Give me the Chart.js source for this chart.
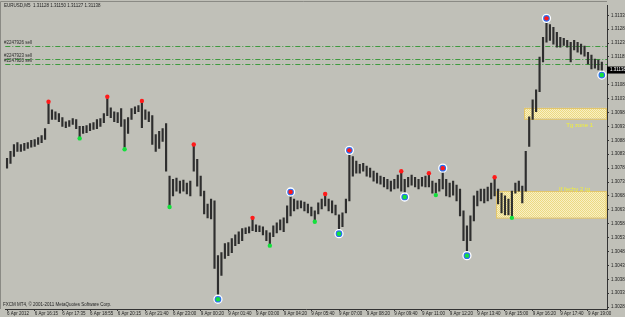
<!DOCTYPE html>
<html>
<head>
<meta charset="utf-8">
<script src="https://cdn.jsdelivr.net/npm/chart.js@4/dist/chart.umd.min.js"></script>
<style>
  html, body { margin: 0; padding: 0; background: #c0c0b8; }
</style>
</head>
<body>
<canvas id="chart" width="625" height="317"></canvas>
<script>
// EURUSD M5 - 6/9 Apr 2012
const symbol = 'EURUSD,M5';
const lastOhlc = [1.31128, 1.31150, 1.31127, 1.31138];
const copyright = 'FXCM MT4, \u00a9 2001-2011 MetaQuotes Software Corp.';

const timeTicks = ['6 Apr 2012', '6 Apr 16:15', '6 Apr 17:35', '6 Apr 18:55', '6 Apr 20:15', '6 Apr 21:40',
  '6 Apr 23:00', '9 Apr 00:20', '9 Apr 01:40', '9 Apr 03:00', '9 Apr 04:20', '9 Apr 05:40', '9 Apr 07:00',
  '9 Apr 08:20', '9 Apr 09:40', '9 Apr 11:00', '9 Apr 12:20', '9 Apr 13:40', '9 Apr 15:00', '9 Apr 16:20',
  '9 Apr 17:40', '9 Apr 19:00'];
const barsPerTick = 8;
const barCount = 174;

const priceTicks = [1.30285, 1.30335, 1.30385, 1.30435, 1.30485, 1.30535, 1.30585, 1.30635, 1.30685, 1.30735,
  1.30785, 1.30835, 1.30885, 1.30935, 1.30985, 1.31035, 1.31085, 1.31135, 1.31185, 1.31235, 1.31285, 1.31335];
const priceMin = 1.30278;
const priceMax = 1.31371;

const highs = [
  1.30820, 1.30845, 1.30870, 1.30877, 1.30870, 1.30874, 1.30877, 1.30885, 1.30888, 1.30895,
  1.30902, 1.30927, 1.31017, 1.30995, 1.30988, 1.30981, 1.30967, 1.30952, 1.30956, 1.30963,
  1.30960, 1.30935, 1.30935, 1.30938, 1.30945, 1.30949, 1.30960, 1.30963, 1.30981, 1.31035,
  1.31002, 1.30988, 1.30985, 1.30999, 1.30960, 1.30967, 1.30999, 1.31006, 1.31010, 1.31020,
  1.30995, 1.30988, 1.30974, 1.30906, 1.30917, 1.30927, 1.30945, 1.30756, 1.30745, 1.30749,
  1.30738, 1.30742, 1.30731, 1.30738, 1.30863, 1.30817, 1.30756, 1.30702, 1.30656, 1.30674,
  1.30667, 1.30470, 1.30481, 1.30513, 1.30517, 1.30531, 1.30545, 1.30556, 1.30567, 1.30570,
  1.30574, 1.30602, 1.30581, 1.30577, 1.30574, 1.30560, 1.30552, 1.30577, 1.30588, 1.30599,
  1.30606, 1.30649, 1.30692, 1.30674, 1.30667, 1.30667, 1.30663, 1.30656, 1.30645, 1.30631,
  1.30660, 1.30674, 1.30685, 1.30674, 1.30667, 1.30652, 1.30617, 1.30624, 1.30674, 1.30842,
  1.30827, 1.30810, 1.30799, 1.30802, 1.30792, 1.30785, 1.30774, 1.30767, 1.30756, 1.30752,
  1.30745, 1.30738, 1.30745, 1.30760, 1.30767, 1.30745, 1.30752, 1.30760, 1.30752, 1.30745,
  1.30752, 1.30756, 1.30760, 1.30738, 1.30731, 1.30745, 1.30777, 1.30745, 1.30731, 1.30738,
  1.30724, 1.30710, 1.30631, 1.30577, 1.30613, 1.30685, 1.30702, 1.30710, 1.30710, 1.30717,
  1.30731, 1.30745, 1.30710, 1.30695, 1.30685, 1.30674, 1.30702, 1.30731, 1.30738, 1.30720,
  1.30845, 1.30970, 1.31031, 1.31067, 1.31185, 1.31256, 1.31317, 1.31302, 1.31292, 1.31274,
  1.31256, 1.31252, 1.31245, 1.31238, 1.31245, 1.31238, 1.31231, 1.31224, 1.31202, 1.31192,
  1.31177, 1.31174, 1.31167
];
const lows = [
  1.30785, 1.30802, 1.30827, 1.30845, 1.30845, 1.30849, 1.30856, 1.30860, 1.30863, 1.30870,
  1.30877, 1.30888, 1.30945, 1.30960, 1.30960, 1.30952, 1.30935, 1.30931, 1.30935, 1.30942,
  1.30927, 1.30895, 1.30910, 1.30913, 1.30920, 1.30924, 1.30927, 1.30935, 1.30949, 1.30974,
  1.30967, 1.30952, 1.30949, 1.30935, 1.30860, 1.30910, 1.30960, 1.30981, 1.30988, 1.30931,
  1.30960, 1.30952, 1.30870, 1.30845, 1.30856, 1.30881, 1.30774, 1.30652, 1.30685, 1.30702,
  1.30695, 1.30702, 1.30692, 1.30685, 1.30774, 1.30720, 1.30685, 1.30620, 1.30606, 1.30602,
  1.30424, 1.30320, 1.30399, 1.30460, 1.30470, 1.30481, 1.30506, 1.30513, 1.30524, 1.30549,
  1.30552, 1.30560, 1.30556, 1.30556, 1.30545, 1.30524, 1.30513, 1.30538, 1.30552, 1.30563,
  1.30556, 1.30588, 1.30613, 1.30631, 1.30638, 1.30642, 1.30631, 1.30624, 1.30613, 1.30595,
  1.30620, 1.30638, 1.30649, 1.30631, 1.30624, 1.30617, 1.30556, 1.30574, 1.30624, 1.30667,
  1.30756, 1.30767, 1.30767, 1.30774, 1.30756, 1.30752, 1.30738, 1.30731, 1.30727, 1.30717,
  1.30710, 1.30702, 1.30710, 1.30713, 1.30702, 1.30688, 1.30717, 1.30724, 1.30717, 1.30710,
  1.30720, 1.30717, 1.30717, 1.30695, 1.30695, 1.30702, 1.30710, 1.30685, 1.30681, 1.30688,
  1.30667, 1.30613, 1.30524, 1.30477, 1.30524, 1.30595, 1.30649, 1.30667, 1.30660, 1.30667,
  1.30674, 1.30685, 1.30656, 1.30624, 1.30617, 1.30617, 1.30613, 1.30695, 1.30702, 1.30660,
  1.30702, 1.30863, 1.30960, 1.30988, 1.31060, 1.31167, 1.31238, 1.31245, 1.31231, 1.31220,
  1.31220, 1.31227, 1.31220, 1.31167, 1.31210, 1.31202, 1.31195, 1.31188, 1.31160, 1.31142,
  1.31145, 1.31138, 1.31131
];

// fractal-style swing markers
const peakBars = [12, 29, 39, 54, 71, 82, 92, 99, 114, 122, 126, 141, 156];
const peakPrices = [1.31024, 1.31042, 1.31027, 1.30870, 1.30606, 1.30699, 1.30692, 1.30849, 1.30774, 1.30767, 1.30785, 1.30752, 1.31324];
const troughBars = [21, 34, 47, 61, 76, 89, 96, 115, 124, 133, 146, 172];
const troughPrices = [1.30892, 1.30853, 1.30645, 1.30313, 1.30506, 1.30592, 1.30549, 1.30681, 1.30688, 1.30470, 1.30606, 1.31120];
const ringedBars = [61, 82, 96, 99, 115, 126, 133, 156, 172];

// open orders
const orderPrices = [1.31224, 1.31177, 1.31160];
const orderNames = ['#2247926 sell', '#2247923 sell', '#2247920 sell'];

// target zones
const zoneNames = ['Tg zone 1', 'If fechy 2 tg'];
const zoneFromBar = [150, 142];
const zoneHigh = [1.31002, 1.30702];
const zoneLow = [1.30963, 1.30606];

const labels = Array.from({ length: barCount }, (_, i) => i % barsPerTick === 0 ? timeTicks[i / barsPerTick] : '');
const bars = highs.map((h, i) => [lows[i], h]);

function sparse(idx, vals) {
  const out = new Array(barCount).fill(null);
  idx.forEach((b, k) => { out[b] = vals[k]; });
  return out;
}
const ringPrices = ringedBars.map(b => {
  const p = peakBars.indexOf(b);
  return p >= 0 ? peakPrices[p] : troughPrices[troughBars.indexOf(b)];
});

let pattern = null;
function zoneFill(ctx) {
  if (pattern) return pattern;
  const c = document.createElement('canvas');
  c.width = 2; c.height = 2;
  const g = c.getContext('2d');
  g.fillStyle = '#f8f0c4'; g.fillRect(0, 0, 2, 2);
  g.fillStyle = '#ecd982'; g.fillRect(0, 0, 1, 1); g.fillRect(1, 1, 1, 1);
  pattern = ctx.createPattern(c, 'repeat');
  return pattern;
}

const FONT = '"Liberation Sans", Arial, sans-serif';

const mtOverlay = {
  id: 'mtOverlay',
  beforeDraw(chart) {
    const { ctx, width, height } = chart;
    ctx.save();
    ctx.fillStyle = '#c0c0b8';
    ctx.fillRect(0, 0, width, height);
    ctx.restore();
  },
  beforeDatasetsDraw(chart) {
    const { ctx, chartArea: a, scales: { x, y } } = chart;
    const half = (x.getPixelForValue(1) - x.getPixelForValue(0)) / 2;
    ctx.save();
    zoneFromBar.forEach((b, k) => {
      const left = x.getPixelForValue(b) - half;
      const top = y.getPixelForValue(zoneHigh[k]);
      const bottom = y.getPixelForValue(zoneLow[k]);
      ctx.fillStyle = zoneFill(ctx);
      ctx.fillRect(left, top, a.right - left, bottom - top);
      ctx.strokeStyle = '#e3c66c';
      ctx.lineWidth = 1;
      ctx.strokeRect(Math.round(left) + 0.5, Math.round(top) + 0.5, a.right - left - 1, bottom - top);
    });
    ctx.strokeStyle = '#3e9a3e';
    ctx.lineWidth = 1;
    ctx.setLineDash([5, 2, 1, 2]);
    ctx.font = '4.5px ' + FONT;
    ctx.textBaseline = 'bottom';
    orderPrices.forEach((p, k) => {
      const py = Math.round(y.getPixelForValue(p)) + 0.5;
      ctx.beginPath();
      ctx.moveTo(a.left, py);
      ctx.lineTo(a.right, py);
      ctx.stroke();
      ctx.fillStyle = '#2a2a2a';
      ctx.fillText(orderNames[k], 4, py - 1);
    });
    ctx.restore();
  },
  afterDatasetsDraw(chart) {
    const { ctx, chartArea: a, scales: { y } } = chart;
    ctx.save();
    ctx.font = '6px ' + FONT;
    ctx.fillStyle = '#f2f038';
    ctx.textAlign = 'right';
    ctx.textBaseline = 'middle';
    ctx.fillText(zoneNames[0], a.right - 14, y.getPixelForValue(zoneLow[0]) + 7);
    ctx.fillText(zoneNames[1], a.right - 17, y.getPixelForValue(zoneHigh[1]) - 2);
    ctx.restore();
  },
  afterDraw(chart) {
    const { ctx, chartArea: a, width, scales: { y } } = chart;
    ctx.save();
    // frame
    ctx.strokeStyle = '#8a8a84';
    ctx.lineWidth = 1;
    ctx.beginPath();
    ctx.moveTo(0.5, a.bottom);
    ctx.lineTo(0.5, 1.5);
    ctx.lineTo(a.right, 1.5);
    ctx.stroke();
    // header + copyright
    ctx.font = '4.5px ' + FONT;
    ctx.fillStyle = '#1e1e1e';
    ctx.textBaseline = 'middle';
    ctx.fillText(symbol + '  ' + lastOhlc.map(v => v.toFixed(5)).join(' '), 4, 6);
    ctx.fillText(copyright, 3, a.bottom - 4);
    // last price tag
    const py = y.getPixelForValue(lastOhlc[3]);
    ctx.fillStyle = '#000';
    ctx.fillRect(a.right, py - 3.5, width - a.right, 7);
    ctx.fillStyle = '#fff';
    ctx.fillText(lastOhlc[3].toFixed(5), a.right + 3, py);
    ctx.restore();
  }
};

new Chart(document.getElementById('chart'), {
  data: {
    labels: labels,
    datasets: [
      {
        type: 'line', data: sparse(peakBars, peakPrices), showLine: false, order: 0,
        pointRadius: 2.2, pointBackgroundColor: '#ff1a1a', pointBorderWidth: 0
      },
      {
        type: 'line', data: sparse(troughBars, troughPrices), showLine: false, order: 0,
        pointRadius: 2.2, pointBackgroundColor: '#14e03c', pointBorderWidth: 0
      },
      {
        type: 'line', data: sparse(ringedBars, ringPrices), showLine: false, order: 1,
        pointRadius: 4, pointBackgroundColor: '#2d6ff0', pointBorderColor: '#ffffff', pointBorderWidth: 1.3
      },
      {
        type: 'bar', data: bars, order: 2,
        backgroundColor: '#2e2e2e', barThickness: 1.5, borderWidth: 0
      }
    ]
  },
  options: {
    responsive: false,
    animation: false,
    events: [],
    layout: { padding: { top: 3, left: 0, right: 0, bottom: 0 } },
    plugins: { legend: { display: false }, tooltip: { enabled: false } },
    scales: {
      x: {
        type: 'category',
        offset: true,
        afterFit: s => { s.height = 8; },
        grid: {
          offset: false, drawOnChartArea: false, tickLength: 2,
          color: c => c.index % barsPerTick === 0 ? '#333' : 'rgba(0,0,0,0)'
        },
        border: { color: '#333' },
        ticks: {
          autoSkip: false, maxRotation: 0, minRotation: 0, align: 'start', padding: 0,
          color: '#222', font: { family: FONT, size: 4.5 }
        }
      },
      y: {
        position: 'right',
        min: priceMin,
        max: priceMax,
        afterFit: s => { s.width = 18; },
        afterBuildTicks: s => { s.ticks = priceTicks.map(v => ({ value: v })); },
        grid: { drawOnChartArea: false, tickLength: 2, color: '#333' },
        border: { color: '#333' },
        ticks: {
          padding: 2, color: '#222', font: { family: FONT, size: 4.5 },
          callback: v => v.toFixed(5)
        }
      }
    }
  },
  plugins: [mtOverlay]
});
</script>
</body>
</html>
